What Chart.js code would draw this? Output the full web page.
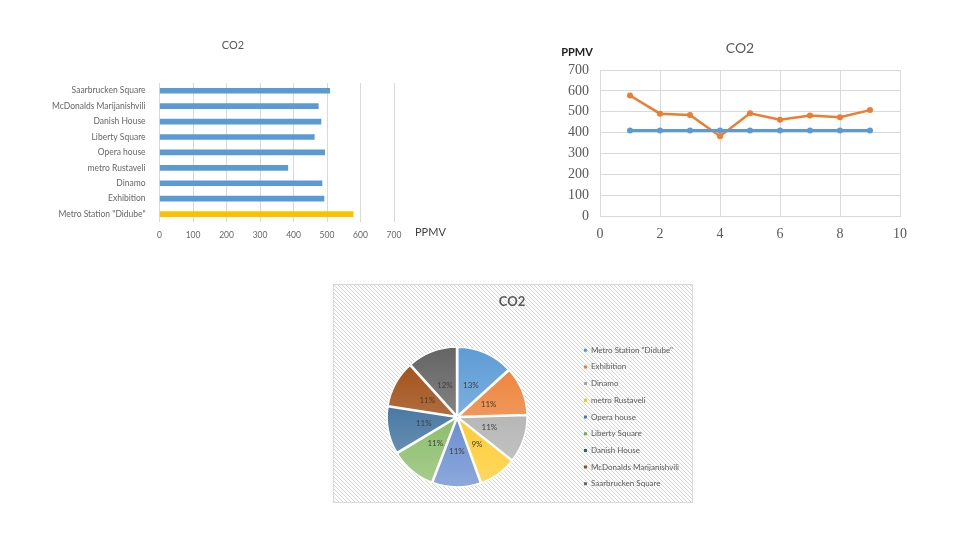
<!doctype html>
<html>
<head>
<meta charset="utf-8">
<script src="https://cdn.jsdelivr.net/npm/chart.js@4"></script>
</head>
<body style="margin:0;width:960px;height:540px;background:#fff;position:relative;overflow:hidden;">
<canvas id="barChart" style="position:absolute;left:20px;top:30px;"></canvas>
<canvas id="lineChart" style="position:absolute;left:540px;top:30px;"></canvas>
<canvas id="pieChart" style="position:absolute;left:333px;top:284px;"></canvas>
<script>
// sites, in measuring order
const sites = ['Metro Station "Didube"', 'Exhibition', 'Dinamo', 'metro Rustaveli', 'Opera house',
               'Liberty Square', 'Danish House', 'McDonalds Marijanishvili', 'Saarbrucken Square'];
const co2 = [578, 491, 485, 383, 493, 462, 482, 474, 508];
const measureNo = [1, 2, 3, 4, 5, 6, 7, 8, 9];
const baseline = [410, 410, 410, 410, 410, 410, 410, 410, 410];
const pieColors = ['#5B9BD5', '#ED7D31', '#A5A5A5', '#FFC000', '#4472C4', '#70AD47', '#255E91', '#9E480E', '#636363'];

const grey = '#595959';

// draws a title at a fixed spot of the canvas (excel titles are not centred on the plot)
const fixedTitle = {
    id: 'fixedTitle',
    afterDraw(chart, args, opts) {
        const ctx = chart.ctx;
        ctx.save();
        ctx.fillStyle = opts.color || grey;
        ctx.font = opts.font;
        ctx.textAlign = 'center';
        ctx.textBaseline = 'middle';
        ctx.fillText(opts.text, opts.x, opts.y);
        ctx.restore();
    }
};

// ---- bar chart ----
const c1 = document.getElementById('barChart');
c1.width = 430; c1.height = 220;
new Chart(c1, {
    type: 'bar',
    data: {
        labels: sites,
        datasets: [{
            data: co2,
            backgroundColor: co2.map((v, i) => i === 0 ? '#FFC000' : '#5B9BD5'),
            barThickness: 5
        }]
    },
    options: {
        indexAxis: 'y',
        responsive: false,
        animation: false,
        layout: { padding: { left: 26, right: 56, top: 53, bottom: 2 } },
        plugins: {
            legend: { display: false },
            tooltip: { enabled: false },
            title: { display: false },
            fixedTitle: { text: 'CO2', x: 213, y: 15, font: '11px Lato' }
        },
        scales: {
            x: {
                min: 0, max: 700,
                ticks: { stepSize: 100, color: '#666', font: { family: 'Lato', size: 8.5 }, padding: 8 },
                grid: { color: '#d9d9d9', drawTicks: false },
                border: { display: false }
            },
            y: {
                reverse: true,
                ticks: { color: '#666', font: { family: 'Lato', size: 8.5 }, padding: 6 },
                grid: { display: false },
                border: { display: false }
            }
        }
    },
    plugins: [fixedTitle, {
        id: 'unitLabel',
        afterDraw(chart) {
            const ctx = chart.ctx, a = chart.chartArea;
            ctx.save();
            ctx.fillStyle = '#404040';
            ctx.font = '11px Lato';
            ctx.textBaseline = 'middle';
            ctx.fillText('PPMV', a.right + 21, a.bottom + 11);
            ctx.restore();
        }
    }]
});

// ---- line chart ----
const c2 = document.getElementById('lineChart');
c2.width = 400; c2.height = 231;
new Chart(c2, {
    type: 'scatter',
    data: {
        datasets: [{
            data: measureNo.map((x, i) => ({ x: x, y: baseline[i] })),
            showLine: true,
            borderColor: '#5B9BD5',
            backgroundColor: '#5B9BD5',
            borderWidth: 3,
            pointRadius: 3,
            pointBorderWidth: 0
        }, {
            data: measureNo.map((x, i) => ({ x: x, y: co2[i] })),
            showLine: true,
            borderColor: '#ED7D31',
            backgroundColor: '#ED7D31',
            borderWidth: 2.5,
            pointRadius: 3,
            pointBorderWidth: 0
        }]
    },
    options: {
        responsive: false,
        animation: false,
        layout: { padding: { left: 17, right: 40, top: 40, bottom: 8 } },
        plugins: {
            legend: { display: false },
            tooltip: { enabled: false },
            title: { display: false },
            fixedTitle: { text: 'CO2', x: 200, y: 18, font: '14px Lato' }
        },
        scales: {
            x: {
                type: 'linear', min: 0, max: 10,
                ticks: { stepSize: 2, color: grey, font: { family: 'Liberation Serif', size: 14 }, padding: 10 },
                grid: { color: '#d9d9d9', drawTicks: false },
                border: { color: '#d9d9d9' }
            },
            y: {
                min: 0, max: 700,
                ticks: { stepSize: 100, autoSkip: false, color: grey, font: { family: 'Liberation Serif', size: 14 }, padding: 11 },
                grid: { color: '#d9d9d9', drawTicks: false },
                border: { color: '#d9d9d9' }
            }
        }
    },
    plugins: [fixedTitle, {
        id: 'unitLabel',
        afterDraw(chart) {
            const ctx = chart.ctx, a = chart.chartArea;
            ctx.save();
            ctx.fillStyle = '#222';
            ctx.font = 'bold 11px Lato';
            ctx.textAlign = 'center';
            ctx.textBaseline = 'middle';
            ctx.fillText('PPMV', a.left - 23, a.top - 18);
            ctx.restore();
        }
    }]
});

// ---- pie chart ----
const c3 = document.getElementById('pieChart');
c3.width = 360; c3.height = 219;

function hatch() {
    const p = document.createElement('canvas');
    p.width = 4; p.height = 4;
    const g = p.getContext('2d');
    g.fillStyle = '#fff';
    g.fillRect(0, 0, 4, 4);
    g.strokeStyle = '#d4d4d4';
    g.lineWidth = 1;
    g.beginPath();
    g.moveTo(-1, -1); g.lineTo(5, 5);
    g.moveTo(-1, 3); g.lineTo(1, 5);
    g.moveTo(3, -1); g.lineTo(5, 1);
    g.stroke();
    return p;
}
const hatchCanvas = hatch();

function lighten(hex, amt) {
    const n = parseInt(hex.slice(1), 16);
    let r = n >> 16, g = (n >> 8) & 255, b = n & 255;
    r = Math.round(r + (255 - r) * amt); g = Math.round(g + (255 - g) * amt); b = Math.round(b + (255 - b) * amt);
    return 'rgb(' + r + ',' + g + ',' + b + ')';
}

const total = co2.reduce((s, v) => s + v, 0);

new Chart(c3, {
    type: 'pie',
    data: {
        labels: sites,
        datasets: [{
            data: co2,
            backgroundColor(ctx) {
                const chart = ctx.chart, a = chart.chartArea;
                const col = pieColors[ctx.dataIndex];
                if (!a) return col;
                const cy = (a.top + a.bottom) / 2;
                const g = chart.ctx.createLinearGradient(0, cy - 72, 0, cy + 72);
                g.addColorStop(0, col);
                g.addColorStop(1, lighten(col, 0.4));
                return g;
            },
            borderColor: '#fff',
            borderWidth: 1.5,
            offset: 6
        }]
    },
    options: {
        responsive: false,
        animation: false,
        radius: 68,
        layout: { padding: { left: 6, right: 4, top: 47, bottom: 0 } },
        plugins: {
            tooltip: { enabled: false },
            title: { display: false },
            fixedTitle: { text: 'CO2', x: 179, y: 18, font: 'bold 13px Lato' },
            legend: {
                position: 'right',
                labels: {
                    color: grey,
                    font: { family: 'Lato', size: 8 },
                    boxWidth: 3, boxHeight: 3,
                    padding: 8.7,
                    generateLabels(chart) {
                        return sites.map((s, i) => ({
                            text: s, fillStyle: pieColors[i], strokeStyle: pieColors[i], lineWidth: 0, index: i, fontColor: grey
                        }));
                    }
                }
            }
        }
    },
    plugins: [{
        id: 'hatchBg',
        beforeDraw(chart) {
            const ctx = chart.ctx;
            ctx.save();
            ctx.fillStyle = ctx.createPattern(hatchCanvas, 'repeat');
            ctx.fillRect(0, 0, chart.width, chart.height);
            ctx.strokeStyle = '#d9d9d9';
            ctx.lineWidth = 1;
            ctx.strokeRect(0.5, 0.5, chart.width - 1, chart.height - 1);
            ctx.restore();
        }
    }, fixedTitle, {
        id: 'pctLabels',
        afterDatasetsDraw(chart) {
            const ctx = chart.ctx;
            const meta = chart.getDatasetMeta(0);
            ctx.save();
            ctx.fillStyle = '#404040';
            ctx.font = '8px Lato';
            ctx.textAlign = 'center';
            ctx.textBaseline = 'middle';
            meta.data.forEach((arc, i) => {
                const mid = (arc.startAngle + arc.endAngle) / 2;
                const r = arc.outerRadius * 0.5;
                ctx.fillText(Math.round(co2[i] / total * 100) + '%', arc.x + Math.cos(mid) * r, arc.y + Math.sin(mid) * r);
            });
            ctx.restore();
        }
    }]
});
</script>
</body>
</html>
